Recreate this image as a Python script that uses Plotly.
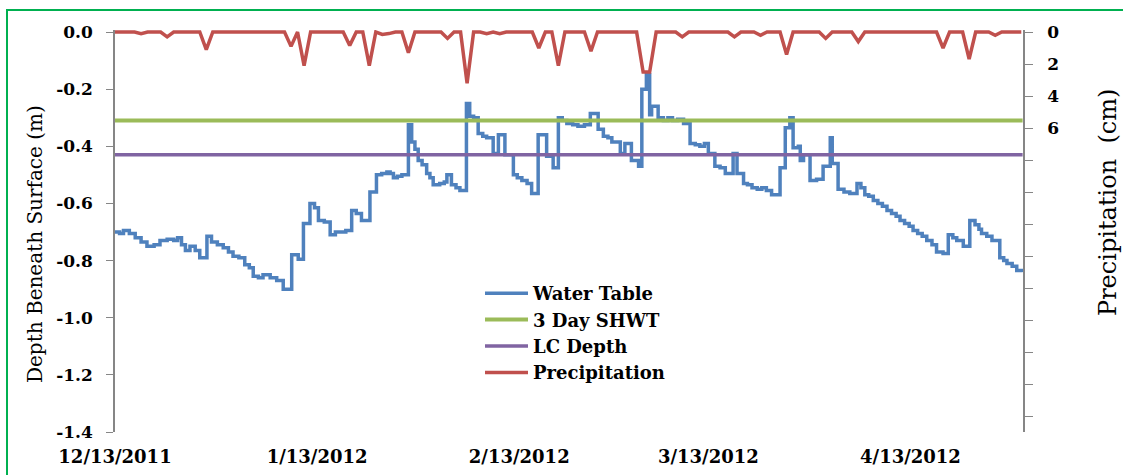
import pandas as pd
import plotly.graph_objects as go

# ---- data -------------------------------------------------------------
start_date = "2011-12-13"

# Water table record: day offset from start date and depth (m), stepped series
wt_day = [0, 0.7, 1.3, 2.2, 3.1, 4.0, 4.9, 6.0, 6.9, 8.0, 9.0, 9.6, 10.2, 10.8,
          11.5, 12.3, 13.0, 14.1, 14.8, 15.7, 16.6, 17.4, 18.1, 19.0, 19.9,
          20.6, 21.2, 22.0, 22.7, 23.8, 24.8, 25.8, 27.1, 28.1, 28.9, 29.9,
          30.6, 31.2, 32.1, 33.0, 33.8, 34.5, 35.4, 36.3, 37.0, 37.8, 39.1,
          40.1, 40.9, 41.7, 42.2, 42.7, 43.3, 44.0, 45.0, 45.5, 46.0, 46.5,
          47.1, 47.8, 48.3, 48.8, 49.8, 50.5, 50.9, 51.6, 52.3, 52.9, 53.9,
          54.4, 55.0, 55.7, 56.4, 57.0, 58.0, 58.8, 59.8, 61.1, 61.7, 62.4,
          63.2, 63.9, 64.9, 66.2, 67.2, 68.0, 68.6, 69.3, 70.2, 71.0, 72.0,
          72.9, 74.1, 74.9, 75.6, 76.2, 77.5, 78.2, 79.2, 80.3, 80.8, 81.5,
          82.0, 82.3, 83.3, 84.1, 84.8, 85.5, 86.3, 87.2, 88.2, 89.0, 89.7,
          90.4, 91.0, 92.0, 92.8, 93.6, 94.8, 95.4, 96.4, 97.0, 97.7, 98.5,
          99.2, 99.9, 100.7, 102.0, 102.8, 103.5, 104.0, 104.8, 105.1, 105.6,
          106.6, 107.6, 108.6, 109.7, 110.0, 110.9, 111.8, 112.7, 113.8,
          114.4, 115.0, 115.6, 116.3, 117.0, 117.7, 118.4, 119.1, 119.8,
          120.4, 121.1, 121.8, 122.4, 123.1, 123.8, 124.5, 125.3, 126.0,
          127.0, 127.8, 128.5, 129.1, 130.1, 131.1, 131.9, 132.5, 132.9,
          133.7, 134.5, 135.7, 136.3, 136.8, 137.6, 138.3, 139.2]
wt_depth = [-0.700, -0.705, -0.695, -0.705, -0.720, -0.735, -0.750, -0.745,
            -0.730, -0.725, -0.730, -0.720, -0.745, -0.765, -0.750, -0.765,
            -0.790, -0.715, -0.735, -0.745, -0.755, -0.770, -0.785, -0.790,
            -0.815, -0.825, -0.855, -0.860, -0.850, -0.860, -0.870, -0.900,
            -0.780, -0.795, -0.670, -0.600, -0.615, -0.660, -0.665, -0.710,
            -0.700, -0.700, -0.695, -0.625, -0.635, -0.660, -0.560, -0.500,
            -0.495, -0.490, -0.495, -0.510, -0.505, -0.500, -0.325, -0.385,
            -0.410, -0.450, -0.465, -0.495, -0.510, -0.535, -0.530, -0.525,
            -0.500, -0.535, -0.545, -0.555, -0.250, -0.295, -0.300, -0.355,
            -0.365, -0.370, -0.425, -0.360, -0.430, -0.500, -0.510, -0.520,
            -0.530, -0.565, -0.360, -0.435, -0.475, -0.300, -0.310, -0.320,
            -0.325, -0.330, -0.325, -0.285, -0.340, -0.365, -0.370, -0.385,
            -0.425, -0.390, -0.450, -0.470, -0.200, -0.150, -0.290, -0.260,
            -0.300, -0.310, -0.300, -0.310, -0.305, -0.320, -0.390, -0.395,
            -0.400, -0.390, -0.425, -0.470, -0.475, -0.495, -0.425, -0.495,
            -0.530, -0.535, -0.545, -0.550, -0.545, -0.555, -0.570, -0.475,
            -0.335, -0.300, -0.405, -0.400, -0.450, -0.430, -0.520, -0.515,
            -0.470, -0.370, -0.460, -0.550, -0.560, -0.565, -0.530, -0.545,
            -0.570, -0.575, -0.590, -0.600, -0.610, -0.625, -0.635, -0.645,
            -0.660, -0.670, -0.680, -0.695, -0.705, -0.715, -0.730, -0.745,
            -0.770, -0.775, -0.710, -0.720, -0.730, -0.750, -0.660, -0.675,
            -0.690, -0.705, -0.715, -0.730, -0.790, -0.800, -0.810, -0.820,
            -0.835, -0.840]

# Seasonal high water table and limiting-condition depth (m)
shwt_depth = [-0.31]
lc_depth = [-0.43]

# Daily precipitation (cm), one value per day from the start date
precip_cm = [0, 0, 0, 0, 0.1, 0, 0, 0, 0.3, 0,
             0, 0, 0, 0, 1.1, 0, 0, 0, 0, 0,
             0, 0, 0, 0, 0, 0, 0, 0.9, 0, 2.1,
             0, 0, 0, 0, 0, 0, 0.85, 0, 0, 2.1,
             0, 0.15, 0.1, 0, 0, 1.3, 0, 0, 0, 0,
             0, 0.4, 0, 0, 3.2, 0, 0, 0.1, 0, 0.1,
             0, 0, 0, 0, 0, 1.0, 0, 0, 2.1, 0,
             0, 0, 0, 1.2, 0, 0, 0, 0, 0, 0,
             0, 2.5, 2.5, 0, 0, 0, 0, 0.3, 0, 0,
             0, 0, 0, 0, 0, 0.3, 0, 0, 0, 0.2,
             0, 0, 0, 1.4, 0, 0, 0, 0, 0, 0.4,
             0, 0, 0, 0, 0.6, 0, 0, 0, 0, 0,
             0, 0, 0, 0, 0, 0, 0, 1.0, 0, 0,
             0, 1.7, 0, 0, 0, 0.2, 0, 0, 0, 0]

# Axis ticks
x_tick_dates = ["2011-12-13", "2012-01-13", "2012-02-13", "2012-03-13", "2012-04-13"]
x_tick_text = ["12/13/2011", "1/13/2012", "2/13/2012", "3/13/2012", "4/13/2012"]
y_tick_vals = [0.0, -0.2, -0.4, -0.6, -0.8, -1.0, -1.2, -1.4]
y_tick_text = ["0.0", "-0.2", "-0.4", "-0.6", "-0.8", "-1.0", "-1.2", "-1.4"]
y2_tick_vals = [0, 2, 4, 6, 8, 10, 12, 14, 16, 18, 20, 22, 24]
y2_tick_text = ["0", "2", "4", "6", "", "", "", "", "", "", "", "", ""]

# ---- build ------------------------------------------------------------
t0 = pd.Timestamp(start_date)
wt_x = [t0 + pd.Timedelta(days=d) for d in wt_day]
pr_x = [t0 + pd.Timedelta(days=i) for i in range(len(precip_cm))]
x_end = t0 + pd.Timedelta(days=139.26)
span = [wt_x[0], wt_x[-1]]

BLUE, GREEN, PURPLE, RED = "#4F81BD", "#9BBB59", "#8064A2", "#C0504D"
AXIS = "#868686"
SERIF = "DejaVu Serif, serif"

# plot-area geometry in pixels (used to place the free-floating titles)
L, R, T, B = 115, 100, 30, 43
PW, PH = 1123 - L - R, 475 - T - B


def px(x):
    return (x - L) / PW


def py(y):
    return (475 - B - y) / PH


fig = go.Figure()
fig.add_trace(go.Scatter(x=wt_x, y=wt_depth, mode="lines", name="Water Table",
                         line=dict(color=BLUE, width=3.5, shape="hv")))
fig.add_trace(go.Scatter(x=span, y=shwt_depth * 2, mode="lines", name="3 Day SHWT",
                         line=dict(color=GREEN, width=4)))
fig.add_trace(go.Scatter(x=span, y=lc_depth * 2, mode="lines", name="LC Depth",
                         line=dict(color=PURPLE, width=3.5)))
fig.add_trace(go.Scatter(x=pr_x, y=precip_cm, mode="lines", name="Precipitation",
                         yaxis="y2", line=dict(color=RED, width=3.5)))

tick_font = dict(family=SERIF, size=17, color="black", weight="bold")

fig.update_layout(
    width=1123, height=475,
    margin=dict(l=L, r=R, t=T, b=B),
    paper_bgcolor="white", plot_bgcolor="white",
    showlegend=True,
    legend=dict(x=px(480), y=py(275), xanchor="left", yanchor="top",
                bgcolor="rgba(0,0,0,0)", itemwidth=43,
                font=dict(family=SERIF, size=18, color="black", weight="bold")),
    xaxis=dict(type="date", range=[t0, x_end], showgrid=False, zeroline=False,
               showline=False, ticks="", tickvals=x_tick_dates, ticktext=x_tick_text,
               tickfont=dict(family=SERIF, size=18, color="black", weight="bold"),
               ticklabelstandoff=12, automargin=False),
    xaxis2=dict(type="date", range=[t0, x_end], overlaying="x", side="top",
                anchor="y", showgrid=False, zeroline=False, showline=True,
                linecolor=AXIS, linewidth=1.5, ticks="inside", ticklen=7,
                tickcolor=AXIS, tickvals=x_tick_dates, showticklabels=False,
                automargin=False),
    yaxis=dict(range=[-1.4, 0.007], showgrid=False, zeroline=False, showline=True,
               linecolor=AXIS, linewidth=1.5, ticks="outside", ticklen=7,
               tickcolor=AXIS, tickvals=y_tick_vals, ticktext=y_tick_text,
               tickfont=tick_font, ticklabelstandoff=10, automargin=False),
    yaxis2=dict(range=[25, -0.125], overlaying="y", side="right", anchor="x",
                showgrid=False, zeroline=False, showline=True,
                linecolor=AXIS, linewidth=1.5, ticks="outside", ticklen=8,
                tickcolor=AXIS, tickvals=y2_tick_vals, ticktext=y2_tick_text,
                tickfont=tick_font, ticklabelstandoff=11, automargin=False),
    annotations=[
        dict(text="Depth Beneath Surface (m)", xref="paper", yref="paper",
             x=px(35), y=py(244), textangle=-90,
             showarrow=False, xanchor="center", yanchor="middle",
             font=dict(family=SERIF, size=20, color="black")),
        dict(text="Precipitation\u00a0 (cm)", xref="paper", yref="paper",
             x=px(1108), y=py(203), textangle=-90,
             showarrow=False, xanchor="center", yanchor="middle",
             font=dict(family=SERIF, size=24, color="black")),
    ],
    shapes=[
        dict(type="rect", xref="paper", yref="paper",
             x0=px(7), y0=py(490), x1=px(1140), y1=py(10),
             line=dict(color="#00B050", width=2), fillcolor="rgba(0,0,0,0)",
             layer="below"),
    ],
)

fig.write_html("out.html")
